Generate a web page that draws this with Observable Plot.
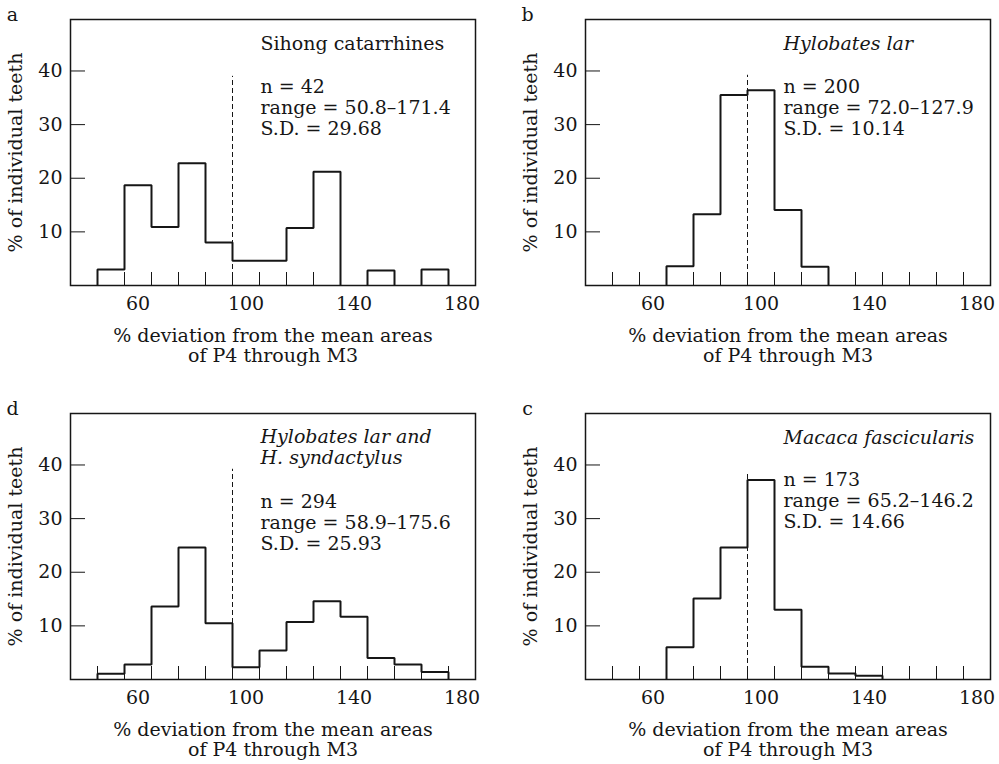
<!DOCTYPE html>
<html><head><meta charset="utf-8">
<script src="https://cdn.jsdelivr.net/npm/d3@7"></script>
<script src="https://cdn.jsdelivr.net/npm/@observablehq/plot@0.6"></script>
<style>
body{margin:0;background:#fff;}
#wrap{position:relative;width:999px;height:764px;overflow:hidden;background:#fff;}
.panel{position:absolute;width:500px;height:370px;}
.panel svg{max-width:none !important;}
</style></head><body><div id="wrap"></div>
<script>
// bin lower edges (% deviation), each bin 10 units wide
const binStarts = [45, 55, 65, 75, 85, 95, 105, 115, 125, 135, 145, 155, 165];
const binEdges = [45, 55, 65, 75, 85, 95, 105, 115, 125, 135, 145, 155, 165, 175];
const binWidth = 10;
// % of individual teeth per bin
const sihongCatarrhines = [3.0, 18.7, 10.9, 22.8, 8.0, 4.6, 4.6, 10.7, 21.2, 0, 2.8, 0, 3.0];
const hylobatesLar = [0, 0, 3.6, 13.3, 35.5, 36.4, 14.1, 3.5, 0, 0, 0, 0, 0];
const hylobatesBoth = [1.05, 2.8, 13.6, 24.6, 10.5, 2.3, 5.4, 10.7, 14.6, 11.7, 4.0, 2.8, 1.4];
const macacaFascicularis = [0, 0, 6.0, 15.1, 24.6, 37.2, 13.0, 2.4, 1.1, 0.7, 0, 0, 0];
const xTickLabels = [60, 100, 140, 180];
const yTickLabels = [10, 20, 30, 40];
const meanX = 95;
const meanTop = {a: 39.0, b: 39.2, d: 39.2, c: 38.4};
const panelLetters = ["a", "b", "d", "c"];
const titles = {a: "Sihong catarrhines", b: "Hylobates lar", d: "Hylobates lar and\nH. syndactylus", c: "Macaca fascicularis"};
const statsText = {
  a: "n = 42\nrange = 50.8–171.4\nS.D. = 29.68",
  b: "n = 200\nrange = 72.0–127.9\nS.D. = 10.14",
  d: "n = 294\nrange = 58.9–175.6\nS.D. = 25.93",
  c: "n = 173\nrange = 65.2–146.2\nS.D. = 14.66"
};
const seriesByPanel = {a: sihongCatarrhines, b: hylobatesLar, d: hylobatesBoth, c: macacaFascicularis};
const yAxisTitle = "% of individual teeth";
const xAxisTitle = "% deviation from the mean areas\nof P4 through M3";

const layout = {
  a: {left: 0, top: 0, italic: false, textDx: 190, titleDy: 24, statsDy: 88},
  b: {left: 515, top: 0, italic: true, textDx: 198, titleDy: 24, statsDy: 88},
  d: {left: 0, top: 394, italic: true, textDx: 190, titleDy: 33, statsDy: 109},
  c: {left: 515, top: 394, italic: true, textDx: 198, titleDy: 24, statsDy: 87}
};

// build step-outline points: one group per run of non-empty bins
function outline(vals) {
  const pts = [];
  let g = -1, open = false;
  vals.forEach((v, i) => {
    const x = binStarts[i];
    if (v > 0) {
      if (!open) { g++; open = true; pts.push({x, y: 0, g}); }
      pts.push({x, y: v, g});
      if (i === vals.length - 1 || !(vals[i + 1] > 0)) {
        pts.push({x: x + binWidth, y: v, g});
        pts.push({x: x + binWidth, y: 0, g});
        open = false;
      }
    }
  });
  return pts;
}

const ink = "#161616";
const fs = 19;
const wrap = document.getElementById("wrap");

for (const key of panelLetters) {
  const L = layout[key];
  const pts = outline(seriesByPanel[key]);
  const chart = Plot.plot({
    width: 500,
    height: 370,
    marginLeft: 70,
    marginRight: 25,
    marginTop: 19,
    marginBottom: 85,
    x: {domain: [35, 185]},
    y: {domain: [0, 49.6]},
    style: {fontFamily: "'DejaVu Serif', serif", fontSize: fs + "px", color: ink, background: "white", overflow: "visible", maxWidth: "none"},
    marks: [
      Plot.ruleX([meanX], {y1: 0, y2: meanTop[key], stroke: ink, strokeWidth: 1, strokeDasharray: "5,3"}),
      Plot.line(pts, {x: "x", y: "y", z: "g", curve: "step-after", stroke: ink, strokeWidth: 2, strokeLinejoin: "miter", strokeLinecap: "butt"}),
      Plot.frame({stroke: ink, strokeWidth: 1.5}),
      Plot.axisY({ticks: yTickLabels, tickSize: -15, text: null, stroke: ink, label: null}),
      Plot.axisY({ticks: yTickLabels, tickSize: 0, tickPadding: 8, label: null, fontSize: fs}),
      Plot.axisX({ticks: binEdges, tickSize: -13, text: null, stroke: ink, label: null}),
      Plot.axisX({ticks: xTickLabels, tickSize: 0, tickPadding: 11, label: null, fontSize: fs}),
      Plot.text([titles[key]], {frameAnchor: "top-left", dx: L.textDx, dy: L.titleDy, textAnchor: "start", lineAnchor: "middle", lineHeight: 1.12, fontStyle: L.italic ? "italic" : "normal", fontSize: fs, fill: ink}),
      Plot.text([statsText[key]], {frameAnchor: "top-left", dx: L.textDx, dy: L.statsDy, textAnchor: "start", lineAnchor: "middle", lineHeight: 1.1, fontSize: fs, fill: ink}),
      Plot.text([key], {frameAnchor: "top-left", dx: -58, dy: -5, textAnchor: "middle", lineAnchor: "middle", fontSize: fs, fill: ink}),
      Plot.text([yAxisTitle], {frameAnchor: "left", dx: -55, rotate: -90, textAnchor: "middle", lineAnchor: "middle", fontSize: fs, fill: ink}),
      Plot.text([xAxisTitle], {frameAnchor: "bottom", dy: 60, textAnchor: "middle", lineAnchor: "middle", lineHeight: 1.05, fontSize: fs, fill: ink})
    ]
  });
  const div = document.createElement("div");
  div.className = "panel";
  div.style.left = L.left + "px";
  div.style.top = L.top + "px";
  div.appendChild(chart);
  wrap.appendChild(div);
}
</script></body></html>
